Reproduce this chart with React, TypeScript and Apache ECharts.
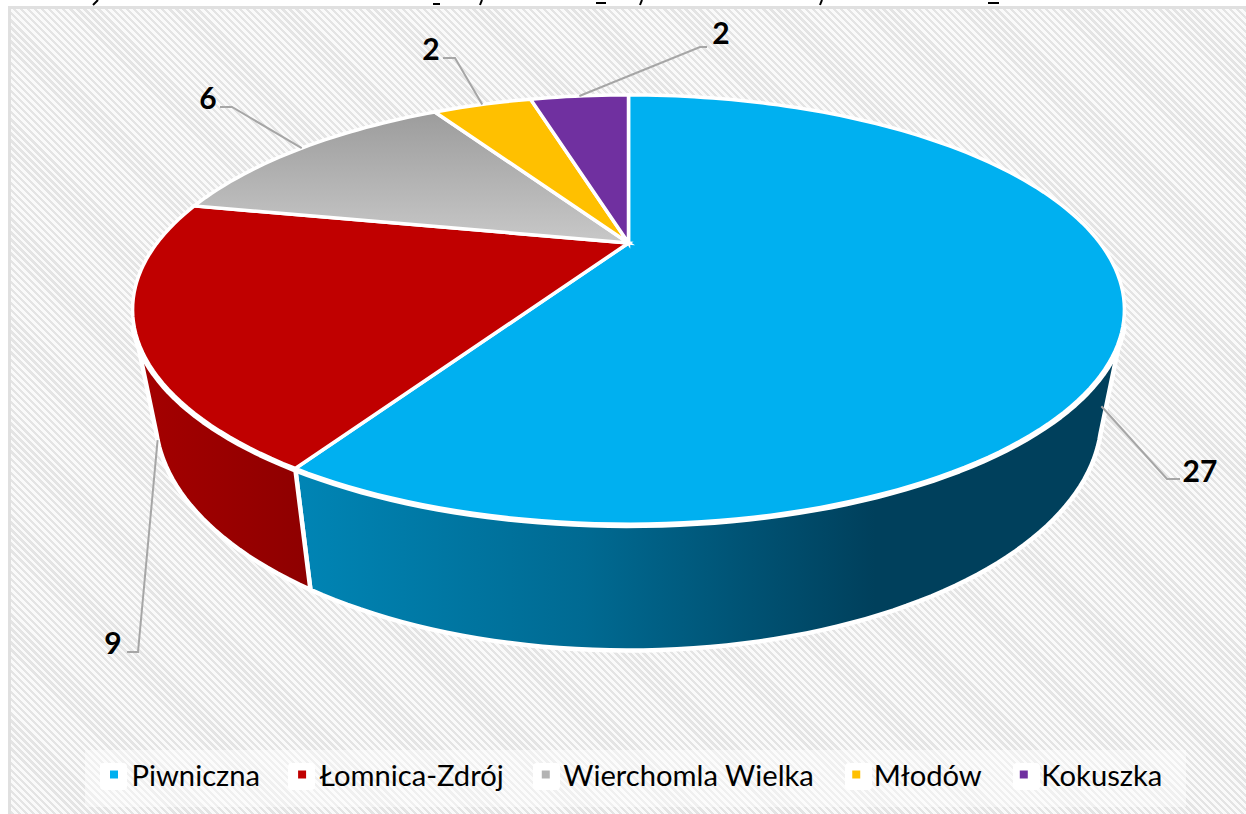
import React, { useEffect, useRef } from "react";
import * as echarts from "echarts";

const categories = ["Piwniczna", "Łomnica-Zdrój", "Wierchomla Wielka", "Młodów", "Kokuszka"];
const values = [27, 9, 6, 2, 2];
const sliceColors = ["#00B0F0", "#C00000", "#B3B3B3", "#FFC000", "#7030A0"];

const total = values.reduce((a, b) => a + b, 0);
const bounds = values.map((_, i) => {
  const before = values.slice(0, i).reduce((a, b) => a + b, 0);
  return [(before / total) * 360, ((before + values[i]) / total) * 360];
});

// perspective projection of the disc: top face and bottom face
const K = 0.31;
const CX = 628.5;
const TOP = { cy: 243, a: 471.5, b: 194 };
const BOT = { cy: 344, a: 450, b: 211.5 };
const WALL_FROM = 112;
const WALL_TO = 248;

const project = (deg: number, f: { cy: number; a: number; b: number }) => {
  const t = (deg * Math.PI) / 180;
  const u = Math.sin(t);
  const v = Math.cos(t);
  const w = 1 + K * v;
  return [CX + (f.a * u) / w, f.cy - (f.b * v) / w];
};

const arc = (from: number, to: number, f: { cy: number; a: number; b: number }) => {
  const n = Math.max(2, Math.ceil(Math.abs(to - from) / 1.5));
  const pts: number[][] = [];
  for (let i = 0; i <= n; i++) pts.push(project(from + ((to - from) * i) / n, f));
  return pts;
};

const horiz = (stops: [number, string][]) => ({
  type: "linear",
  x: 0,
  y: 0,
  x2: 1,
  y2: 0,
  colorStops: stops.map(([offset, color]) => ({ offset, color })),
});

const topFills: any[] = [
  "#00B0F0",
  "#C00000",
  {
    type: "linear",
    x: 0,
    y: 0,
    x2: 0,
    y2: 1,
    colorStops: [
      { offset: 0, color: "#9C9C9C" },
      { offset: 1, color: "#C8C8C8" },
    ],
  },
  "#FFC000",
  "#7030A0",
];
const wallFills: any[] = [
  horiz([
    [0, "#0085B5"],
    [0.35, "#006A92"],
    [0.7, "#00405C"],
    [1, "#00405C"],
  ]),
  horiz([
    [0, "#A50000"],
    [1, "#8E0000"],
  ]),
  null,
  null,
  null,
];

// leader elbow points and label anchors, per slice
const leaderOnBottom = [true, true, false, false, false];
const leaderElbows = [
  [[1167, 479], [1180, 479]],
  [[138, 652], [127, 652]],
  [[232, 107], [220, 107]],
  [[455, 58], [443, 58]],
  [[700, 47], [707, 47]],
];
const labelAnchors = [
  [1200, 470],
  [113, 642],
  [208, 97],
  [431, 48],
  [721, 32],
];

const clippedTitleMarks = [
  [[98, 0], [93, 5]],
  [[433, 4], [440, 4]],
  [[482, 0], [480, 5]],
  [[596, 3], [606, 3]],
  [[642, 0], [640, 5]],
  [[822, 0], [820, 5]],
  [[988, 3], [999, 3]],
];
const legendIconBoxes = [100, 288, 533, 845, 1013];

const makeSeries = (i: number) => ({
  type: "custom",
  name: categories[i],
  coordinateSystem: "none",
  silent: true,
  itemStyle: { color: sliceColors[i] },
  data: [[bounds[i][0], bounds[i][1], values[i]]],
  renderItem: (_p: any, api: any) => {
    const start = api.value(0);
    const end = api.value(1);
    const value = api.value(2);
    const children: any[] = [];

    const from = Math.max(start, WALL_FROM);
    const to = Math.min(end, WALL_TO);
    if (to > from && wallFills[i]) {
      children.push({
        type: "polygon",
        z2: 1,
        shape: { points: [...arc(from, to, TOP), ...arc(to, from, BOT)] },
        style: { fill: wallFills[i], stroke: "#fff", lineWidth: 4.5, lineJoin: "round" },
      });
      children.push({
        type: "polyline",
        z2: 2,
        shape: { points: arc(from, to, TOP) },
        style: { fill: "none", stroke: "#fff", lineWidth: 8, lineJoin: "round" },
      });
    }
    children.push({
      type: "polygon",
      z2: 3,
      shape: { points: [project(0, { ...TOP, a: 0, b: 0 }), ...arc(start, end, TOP)] },
      style: { fill: topFills[i], stroke: "#fff", lineWidth: 3.5, lineJoin: "miter" },
    });

    const mid = (start + end) / 2;
    const anchor = project(mid, leaderOnBottom[i] ? BOT : TOP);
    children.push({
      type: "polyline",
      z2: 4,
      shape: { points: [anchor, ...leaderElbows[i]] },
      style: { fill: "none", stroke: "#A6A6A6", lineWidth: 2 },
    });
    children.push({
      type: "text",
      z2: 5,
      style: {
        x: labelAnchors[i][0],
        y: labelAnchors[i][1],
        text: String(value),
        fill: "#000",
        font: '700 30px Lato, "Open Sans", sans-serif',
        textAlign: "center",
        textVerticalAlign: "middle",
      },
    });
    return { type: "group", children };
  },
});

export default function App() {
  const ref = useRef<HTMLDivElement>(null);

  useEffect(() => {
    const chart = echarts.init(ref.current!, null, { renderer: "svg" });
    chart.setOption({
      animation: false,
      legend: {
        show: true,
        selectedMode: false,
        left: 110,
        top: 760,
        padding: 0,
        itemWidth: 8,
        itemHeight: 8,
        itemGap: 38,
        icon: "rect",
        data: categories,
        textStyle: {
          fontFamily: 'Lato, "Open Sans", sans-serif',
          fontSize: 29.2,
          color: "#000",
          padding: [0, 0, 0, 8.5],
        },
      },
      graphic: {
        elements: [
          {
            type: "rect",
            z: 0,
            shape: { x: 85, y: 750, width: 1101, height: 57 },
            style: { fill: "rgba(255,255,255,0.45)" },
          },
          ...legendIconBoxes.map((x) => ({
            type: "rect",
            z: 0,
            shape: { x, y: 763, width: 27, height: 27, r: 4 },
            style: { fill: "#fff" },
          })),
          ...clippedTitleMarks.map((points) => ({
            type: "polyline",
            z: 0,
            shape: { points },
            style: { fill: "none", stroke: "#000", lineWidth: 2 },
          })),
        ],
      },
      series: categories.map((_, i) => makeSeries(i)),
    });
    return () => chart.dispose();
  }, []);

  return (
    <div style={{ position: "fixed", left: 0, top: 0, width: 1246, height: 814, background: "#fff", overflow: "hidden" }}>
      <div
        style={{
          position: "absolute",
          left: 8,
          top: 6,
          width: 1238,
          height: 808,
          boxSizing: "border-box",
          borderLeft: "3px solid #E0E0E0",
          borderTop: "3px solid #E0E0E0",
          background: "repeating-linear-gradient(45deg, #E4E4E4 0px, #E4E4E4 2.4px, #FAFAFA 2.4px, #FAFAFA 5px)",
        }}
      />
      <div ref={ref} style={{ position: "absolute", left: 0, top: 0, width: 1246, height: 814 }} />
    </div>
  );
}
